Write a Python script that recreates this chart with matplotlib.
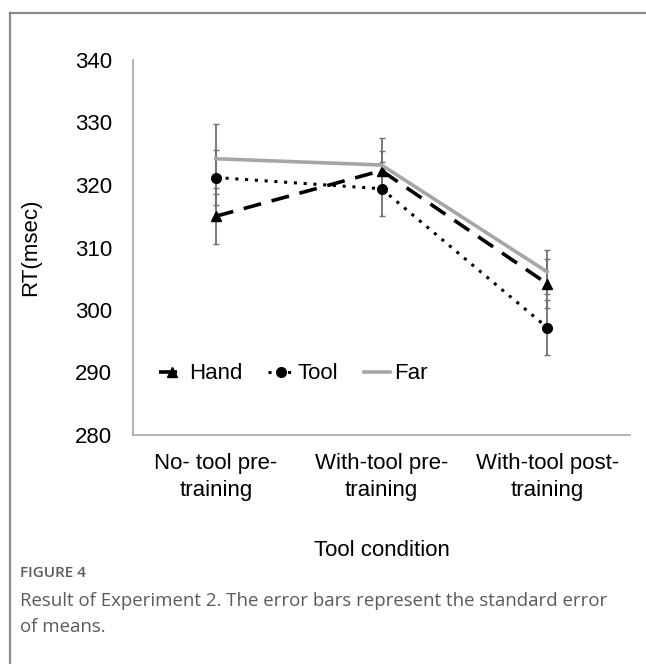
import numpy as np
import matplotlib
matplotlib.use("Agg")
import matplotlib.pyplot as plt
from matplotlib.lines import Line2D

# data
conditions = ["No- tool pre-\ntraining", "With-tool pre-\ntraining", "With-tool post-\ntraining"]
hand = [315.0, 322.3, 304.2]
hand_se = [4.45, 3.2, 3.9]
tool = [321.2, 319.4, 297.2]
tool_se = [4.35, 4.3, 4.4]
far = [324.2, 323.2, 306.1]
far_se = [5.6, 4.25, 3.55]

plt.rcParams["font.family"] = ["Liberation Sans", "DejaVu Sans"]

fig = plt.figure(figsize=(6.46, 6.64), dpi=100)
ax = fig.add_axes([133 / 646, 1 - 435 / 664, 497 / 646, 375 / 664])

x = np.arange(len(conditions))
err_kw = dict(fmt="none", ecolor="#707070", elinewidth=1.3, capsize=2.5, capthick=1.0, zorder=2)
ax.errorbar(x, hand, yerr=hand_se, **err_kw)
ax.errorbar(x, tool, yerr=tool_se, **err_kw)
ax.errorbar(x, far, yerr=far_se, **err_kw)

ax.plot(x, hand, color="black", lw=2.6, dashes=(5, 3), marker="^", ms=7.5, label="Hand", zorder=3)
ax.plot(x, tool, color="black", lw=2.2, linestyle=(0, (1, 2.2)), marker="o", ms=7, label="Tool", zorder=3)
ax.plot(x, far, color="#a6a6a6", lw=2.6, label="Far", zorder=4)

ax.set_xlim(-0.5, 2.5)
ax.set_ylim(280, 340)
ax.set_yticks(np.arange(280, 341, 10))
ax.set_xticks(x)
ax.set_xticklabels(conditions, linespacing=1.4)
ax.tick_params(length=0, labelsize=16)
ax.tick_params(axis="y", pad=15)
ax.tick_params(axis="x", pad=13)

for s in ["top", "right"]:
    ax.spines[s].set_visible(False)
for s in ["left", "bottom"]:
    ax.spines[s].set_color("#a6a6a6")
    ax.spines[s].set_linewidth(1.2)

ax.set_ylabel("RT(msec)", fontsize=16, labelpad=24)
ax.set_xlabel("Tool condition", fontsize=16, labelpad=28)

ax.legend(loc="center left", bbox_to_anchor=(0.012, 0.163), ncol=3, frameon=False, fontsize=16,
          handlelength=1.15, handletextpad=0.2, columnspacing=1.15)

# frame around figure panel
fig.add_artist(Line2D([10 / 646, 10 / 646], [0, 1 - 13 / 664], color="#8a8a8a", lw=1.6))
fig.add_artist(Line2D([10 / 646, 1], [1 - 13 / 664, 1 - 13 / 664], color="#8a8a8a", lw=1.6))

fig.text(20 / 646, 1 - 573 / 664, "FIGURE 4", fontsize=11, color="#5a5a5a",
         family=["Open Sans", "DejaVu Sans"], fontweight="semibold", va="center")
fig.text(20 / 646, 1 - 614 / 664,
         "Result of Experiment 2. The error bars represent the standard error\nof means.",
         fontsize=13.4, color="#5a5a5a", family=["Open Sans", "DejaVu Sans"], va="center",
         linespacing=1.6)

fig.savefig("out.png", dpi=100)
